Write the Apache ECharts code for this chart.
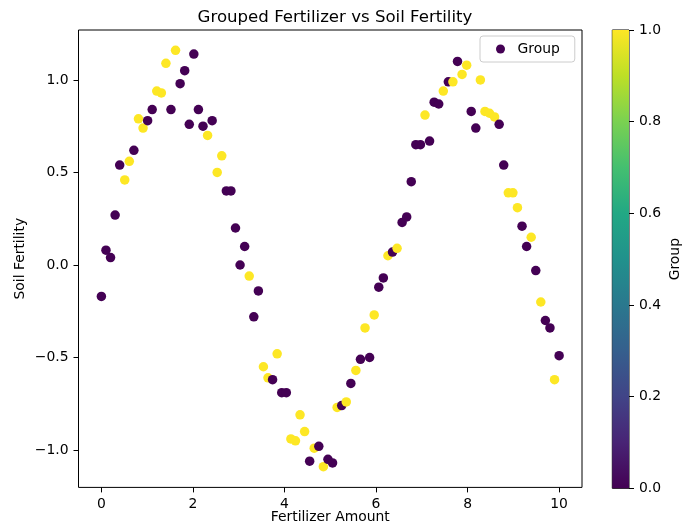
<!DOCTYPE html>
<html>
<head>
<meta charset="utf-8">
<script src="https://cdn.jsdelivr.net/npm/echarts@6/dist/echarts.min.js"></script>
<style>
  html, body { margin: 0; padding: 0; background: #fff; }
  #chart { width: 683px; height: 531px; }
</style>
</head>
<body>
<div id="chart"></div>
<script>
// fertilizer amount (x), soil fertility (y), group (0 / 1)
const fertilizer = [
  0.00, 0.10, 0.20, 0.30, 0.40, 0.51, 0.61, 0.71, 0.81, 0.91,
  1.01, 1.11, 1.21, 1.31, 1.41, 1.52, 1.62, 1.72, 1.82, 1.92,
  2.02, 2.12, 2.22, 2.32, 2.42, 2.53, 2.63, 2.73, 2.83, 2.93,
  3.03, 3.13, 3.23, 3.33, 3.43, 3.54, 3.64, 3.74, 3.84, 3.94,
  4.04, 4.14, 4.24, 4.34, 4.44, 4.55, 4.65, 4.75, 4.85, 4.95,
  5.05, 5.15, 5.25, 5.35, 5.45, 5.56, 5.66, 5.76, 5.86, 5.96,
  6.06, 6.16, 6.26, 6.36, 6.46, 6.57, 6.67, 6.77, 6.87, 6.97,
  7.07, 7.17, 7.27, 7.37, 7.47, 7.58, 7.68, 7.78, 7.88, 7.98,
  8.08, 8.18, 8.28, 8.38, 8.48, 8.59, 8.69, 8.79, 8.89, 8.99,
  9.09, 9.19, 9.29, 9.39, 9.49, 9.60, 9.70, 9.80, 9.90, 10.00
];
const fertility = [
  -0.17, 0.08, 0.04, 0.27, 0.54, 0.46, 0.56, 0.62, 0.79, 0.74,
  0.78, 0.84, 0.94, 0.93, 1.09, 0.84, 1.16, 0.98, 1.05, 0.76,
  1.14, 0.84, 0.75, 0.70, 0.78, 0.50, 0.59, 0.40, 0.40, 0.20,
  0.00, 0.10, -0.06, -0.28, -0.14, -0.55, -0.61, -0.62, -0.48, -0.69,
  -0.69, -0.94, -0.95, -0.81, -0.90, -1.06, -0.99, -0.98, -1.09, -1.05,
  -1.07, -0.77, -0.76, -0.74, -0.64, -0.57, -0.51, -0.34, -0.50, -0.27,
  -0.12, -0.07, 0.05, 0.07, 0.09, 0.23, 0.26, 0.45, 0.65, 0.65,
  0.81, 0.67, 0.88, 0.87, 0.94, 0.99, 0.99, 1.10, 1.03, 1.08,
  0.83, 0.74, 1.00, 0.83, 0.82, 0.80, 0.76, 0.54, 0.39, 0.39,
  0.31, 0.21, 0.10, 0.15, -0.03, -0.20, -0.30, -0.34, -0.62, -0.49
];
const group = [
  0, 0, 0, 0, 0, 1, 1, 0, 1, 1,
  0, 0, 1, 1, 1, 0, 1, 0, 0, 0,
  0, 0, 0, 1, 0, 1, 1, 0, 0, 0,
  0, 0, 1, 0, 0, 1, 1, 0, 1, 0,
  0, 1, 1, 1, 1, 0, 1, 0, 1, 0,
  0, 1, 0, 1, 0, 1, 0, 1, 0, 1,
  0, 0, 1, 0, 1, 0, 0, 0, 0, 0,
  1, 0, 0, 0, 1, 0, 1, 0, 1, 1,
  0, 0, 1, 1, 1, 1, 0, 0, 1, 1,
  1, 0, 0, 1, 0, 1, 0, 0, 1, 0
];
const xTicks = [0, 2, 4, 6, 8, 10];
const yTicks = [-1, -0.5, 0, 0.5, 1];

const viridis = ['#440154', '#482475', '#414487', '#355f8d', '#2a788e',
  '#21918c', '#22a884', '#44bf70', '#7ad151', '#bddf26', '#fde725'];

const font = 'DejaVu Sans';
const fmt = v => (v < 0 ? '\u2212' : '') + Math.abs(v).toFixed(1);

const chart = echarts.init(document.getElementById('chart'));
const points = fertilizer.map((x, i) => [x, fertility[i], group[i]]);

const tickStyle = { show: true, inside: false, length: 5, lineStyle: { color: '#000', width: 1 } };
const labelStyle = { color: '#000', fontFamily: font, fontSize: 13.9 };

chart.setOption({
  animation: false,
  title: {
    text: 'Grouped Fertilizer vs Soil Fertility',
    left: 330, top: 4, textAlign: 'center',
    textStyle: { fontFamily: font, fontSize: 16.6, fontWeight: 'normal', color: '#000' }
  },
  legend: {
    data: [{ name: 'Group', itemStyle: { color: '#440154' } }],
    left: 480, top: 36,
    padding: [6, 15, 6, 16],
    itemWidth: 24, itemHeight: 9,
    icon: 'circle',
    borderColor: '#cccccc', borderWidth: 1, borderRadius: 3,
    backgroundColor: 'rgba(255,255,255,0.8)',
    textStyle: { fontFamily: font, fontSize: 13.9, color: '#000' }
  },
  grid: [
    { left: 78.5, right: 101, top: 30, bottom: 43.6, show: true, borderColor: '#000', borderWidth: 1 },
    { left: 612.3, width: 23.4, top: 30, bottom: 42.7, show: true, borderColor: '#000', borderWidth: 1 }
  ],
  xAxis: [{
    type: 'value', min: -0.5, max: 10.5,
    name: 'Fertilizer Amount', nameLocation: 'middle', nameGap: 23, nameMoveOverlap: false,
    nameTextStyle: labelStyle,
    axisLine: { show: false, onZero: false }, splitLine: { show: false },
    axisTick: Object.assign({ customValues: xTicks }, tickStyle),
    axisLabel: Object.assign({ customValues: xTicks, margin: 10, formatter: v => String(v) }, labelStyle)
  }, {
    gridIndex: 1, type: 'category', data: ['c'], show: false
  }],
  yAxis: [{
    type: 'value', min: -1.202, max: 1.27,
    name: 'Soil Fertility', nameLocation: 'middle', nameGap: 51, nameRotate: 90, nameMoveOverlap: false,
    nameTextStyle: labelStyle,
    axisLine: { show: false, onZero: false }, splitLine: { show: false },
    axisTick: Object.assign({ customValues: yTicks }, tickStyle),
    axisLabel: Object.assign({ customValues: yTicks, margin: 10, formatter: fmt }, labelStyle)
  }, {
    gridIndex: 1, type: 'value', min: 0, max: 1, interval: 0.2, position: 'right',
    name: 'Group', nameLocation: 'middle', nameGap: 39, nameRotate: 90, nameMoveOverlap: false,
    nameTextStyle: labelStyle,
    axisLine: { show: false, onZero: false }, splitLine: { show: false },
    axisTick: tickStyle,
    axisLabel: Object.assign({ margin: 10, formatter: v => v.toFixed(1) }, labelStyle)
  }],
  visualMap: {
    show: false, type: 'continuous', seriesIndex: 0, dimension: 2,
    min: 0, max: 1, inRange: { color: viridis }
  },
  series: [{
    name: 'Group',
    type: 'scatter',
    data: points,
    symbolSize: 9.5,
    itemStyle: { opacity: 1 }
  }, {
    name: 'colorbar',
    type: 'bar',
    xAxisIndex: 1, yAxisIndex: 1,
    data: [1],
    barWidth: '100%',
    silent: true,
    itemStyle: {
      color: new echarts.graphic.LinearGradient(0, 1, 0, 0,
        viridis.map((c, i) => ({ offset: i / (viridis.length - 1), color: c })))
    }
  }]
});

window.addEventListener('resize', () => chart.resize());
</script>
</body>
</html>
